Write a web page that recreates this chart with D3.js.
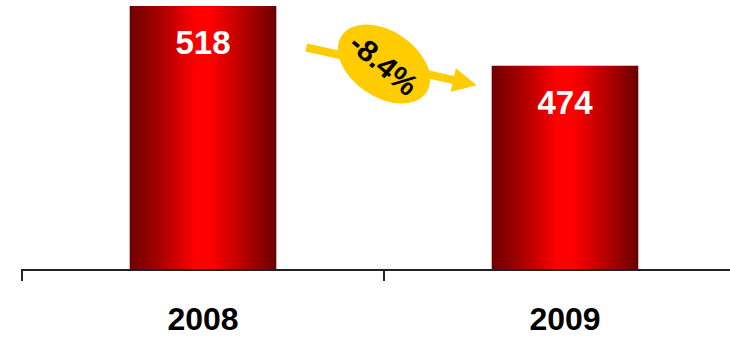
<!DOCTYPE html>
<html>
<head>
<meta charset="utf-8">
<script src="https://cdn.jsdelivr.net/npm/d3@7/dist/d3.min.js"></script>
<style>
  html, body { margin: 0; padding: 0; background: #fff; }
  svg { display: block; font-family: "Liberation Sans", Arial, sans-serif; }
</style>
</head>
<body>
<svg id="chart" width="730" height="337"></svg>
<script>
// Yearly totals
const years = ["2008", "2009"];
const values = [518, 474];
const changeLabel = "-8.4%";
// Value axis is cut: bars start above zero
const valueDomain = [323.5, 518];

const W = 730, H = 337;
const svg = d3.select("#chart");

const x = d3.scaleBand()
  .domain(years)
  .range([22, 746])
  .paddingInner(0.595)
  .paddingOuter(0.2975);

const y = d3.scaleLinear()
  .domain(valueDomain)
  .range([270, 6]);

// Horizontal shading of each bar: dark edges, bright centre
const defs = svg.append("defs");
const grad = defs.append("linearGradient")
  .attr("id", "barShade")
  .attr("x1", "0%").attr("x2", "100%")
  .attr("y1", "0%").attr("y2", "0%");
[[0, "#6e0000"], [0.18, "#a00000"], [0.45, "#ff0000"], [0.55, "#ff0000"], [0.82, "#a80000"], [1, "#6a0000"]]
  .forEach(([o, c]) => grad.append("stop").attr("offset", o).attr("stop-color", c));

const data = years.map((yr, i) => ({ year: yr, value: values[i] }));

svg.append("g").selectAll("rect")
  .data(data)
  .join("rect")
  .attr("x", d => x(d.year))
  .attr("y", d => y(d.value))
  .attr("width", x.bandwidth())
  .attr("height", d => y(valueDomain[0]) - y(d.value))
  .attr("fill", "url(#barShade)");

// Value labels inside the bars
svg.append("g").selectAll("text")
  .data(data)
  .join("text")
  .attr("x", d => x(d.year) + x.bandwidth() / 2)
  .attr("y", d => y(d.value) + 48)
  .attr("text-anchor", "middle")
  .attr("fill", "#fff")
  .attr("font-weight", "bold")
  .attr("font-size", 33)
  .text(d => d.value);

// Category axis with ticks at the band boundaries
const axisY = y(valueDomain[0]);
const axis = svg.append("g").attr("transform", `translate(0,${axisY})`);
axis.append("line")
  .attr("x1", 22).attr("x2", W)
  .attr("y1", 0).attr("y2", 0)
  .attr("stroke", "#222").attr("stroke-width", 2);
const boundaries = years.map(yr => x(yr) - x.step() * x.paddingInner() / 2);
boundaries[0] = x.range()[0];
axis.selectAll("line.tick")
  .data(boundaries)
  .join("line")
  .attr("class", "tick")
  .attr("x1", d => d).attr("x2", d => d)
  .attr("y1", -1).attr("y2", 11)
  .attr("stroke", "#222").attr("stroke-width", 2);
axis.selectAll("text")
  .data(years)
  .join("text")
  .attr("x", d => x(d) + x.bandwidth() / 2)
  .attr("y", 60)
  .attr("text-anchor", "middle")
  .attr("fill", "#000")
  .attr("font-weight", "bold")
  .attr("font-size", 32)
  .text(d => d);

// Change arrow between the two bars
const gold = "#ffcc00";
const x0 = x(years[0]) + x.bandwidth() + 30;
const x1 = x(years[1]) - 15;
const yA = y(values[0]) + 41.5;
const yB = y(values[1]) + 19.5;
const ang = Math.atan2(yB - yA, x1 - x0);
const headLen = 24, headHalf = 12;
const bx = x1 - headLen * Math.cos(ang), by = yB - headLen * Math.sin(ang);
svg.append("line")
  .attr("x1", x0).attr("y1", yA)
  .attr("x2", bx + 2 * Math.cos(ang)).attr("y2", by + 2 * Math.sin(ang))
  .attr("stroke", gold).attr("stroke-width", 8);
svg.append("path")
  .attr("d", d3.line()([
    [x1, yB],
    [bx - headHalf * Math.sin(ang), by + headHalf * Math.cos(ang)],
    [bx + headHalf * Math.sin(ang), by - headHalf * Math.cos(ang)]
  ]) + "Z")
  .attr("fill", gold);

// Badge with the percentage change
const cx = (x(years[0]) + x.bandwidth() + x(years[1])) / 2;
const cy = 64;
const badge = svg.append("g").attr("transform", `translate(${cx},${cy})`);
badge.append("ellipse")
  .attr("rx", 51).attr("ry", 33)
  .attr("transform", "rotate(34)")
  .attr("fill", gold);
badge.append("text")
  .attr("transform", "rotate(40)")
  .attr("text-anchor", "middle")
  .attr("dy", "0.36em")
  .attr("fill", "#000")
  .attr("font-weight", "bold")
  .attr("font-size", 30)
  .text(changeLabel);
</script>
</body>
</html>
